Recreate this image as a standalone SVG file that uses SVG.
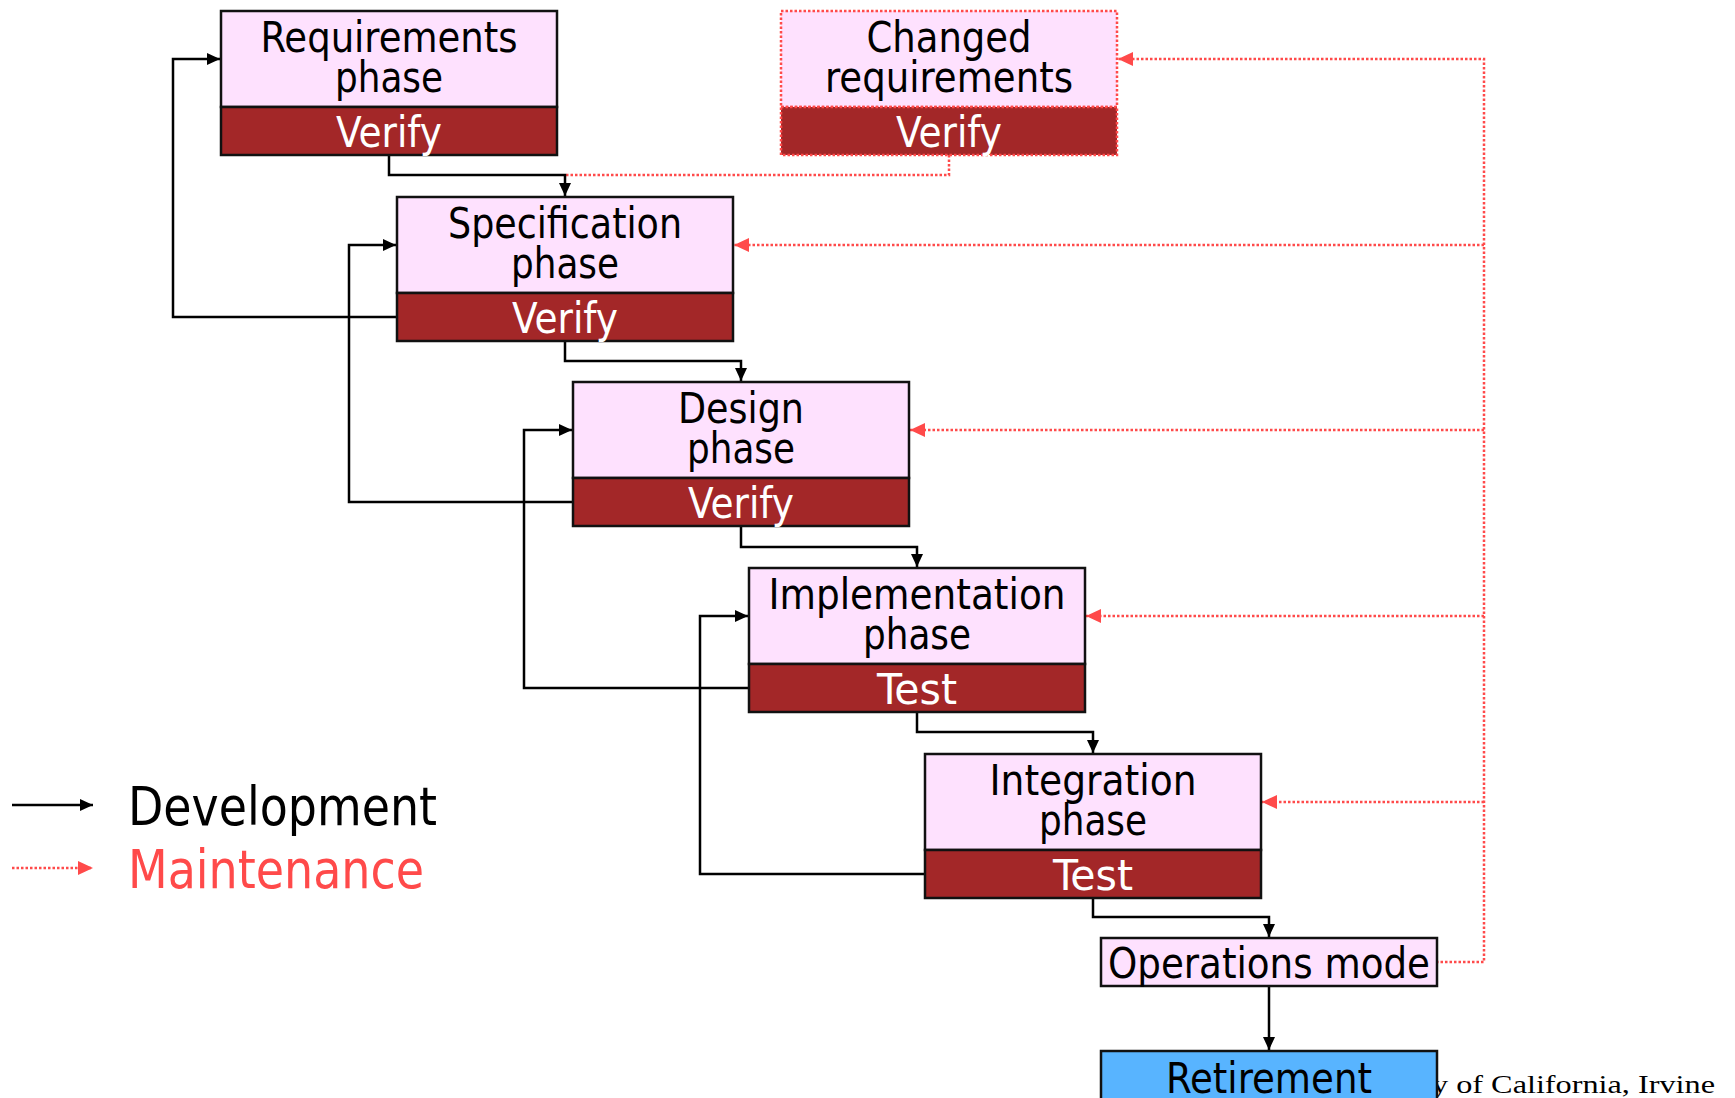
<svg xmlns="http://www.w3.org/2000/svg" width="1735" height="1098" viewBox="0 0 1735 1098">
<style>
.top{fill:#FEE1FE;stroke:#111;stroke-width:2.5}
.bot{fill:#A32728;stroke:#111;stroke-width:2.5}
.ctop{fill:#FEE1FE;stroke:#FF4A4A;stroke-width:2.5;stroke-dasharray:2.5 2}
.cbot{fill:#A32728;stroke:#FF4A4A;stroke-width:2.5;stroke-dasharray:2.5 2}
.ret{fill:#58B4FF;stroke:#111;stroke-width:2.5}
.t{font-family:"DejaVu Sans Condensed","DejaVu Sans",sans-serif;font-size:42px;fill:#000;text-anchor:middle}
.w{font-family:"DejaVu Sans Condensed","DejaVu Sans",sans-serif;font-size:43px;fill:#fff;text-anchor:middle}
.dev{fill:none;stroke:#000;stroke-width:2.5}
.mnt{fill:none;stroke:#FF4A4A;stroke-width:2.5;stroke-dasharray:2.5 2}
.leg{font-family:"DejaVu Sans Condensed","DejaVu Sans",sans-serif;font-size:54px}
</style>
<defs>
<marker id="ab" markerUnits="userSpaceOnUse" markerWidth="14" markerHeight="12" refX="13" refY="6" orient="auto">
<path d="M0,0 L13,6 L0,12 Z" fill="#000"/>
</marker>
<marker id="ar" markerUnits="userSpaceOnUse" markerWidth="16" markerHeight="14" refX="15" refY="7" orient="auto">
<path d="M0,0 L15,7 L0,14 Z" fill="#FF4A4A"/>
</marker>
</defs>

<g id="connectors">
<path class="mnt" d="M1436,962 H1484 V59 H1118" marker-end="url(#ar)"/>
<path class="mnt" d="M1484,245 H734" marker-end="url(#ar)"/>
<path class="mnt" d="M1484,430 H910" marker-end="url(#ar)"/>
<path class="mnt" d="M1484,616 H1086" marker-end="url(#ar)"/>
<path class="mnt" d="M1484,802 H1262" marker-end="url(#ar)"/>
<path class="mnt" d="M949,155 V175 H566"/>
<path class="dev" d="M389,155 V175 H565 V196" marker-end="url(#ab)"/>
<path class="dev" d="M565,341 V361 H741 V381" marker-end="url(#ab)"/>
<path class="dev" d="M741,527 V547 H917 V567" marker-end="url(#ab)"/>
<path class="dev" d="M917,712 V732 H1093 V753" marker-end="url(#ab)"/>
<path class="dev" d="M1093,898 V917 H1269 V937" marker-end="url(#ab)"/>
<path class="dev" d="M1269,986 V1050" marker-end="url(#ab)"/>
<path class="dev" d="M397,317 H173 V59 H220" marker-end="url(#ab)"/>
<path class="dev" d="M573,502 H349 V245 H396" marker-end="url(#ab)"/>
<path class="dev" d="M749,688 H524 V430 H572" marker-end="url(#ab)"/>
<path class="dev" d="M925,874 H700 V616 H748" marker-end="url(#ab)"/>
</g>

<g id="requirements">
<rect class="top" x="221" y="11" width="336" height="96"/>
<rect class="bot" x="221" y="107" width="336" height="48"/>
<text class="t" x="389" y="52" textLength="257" lengthAdjust="spacingAndGlyphs">Requirements</text>
<text class="t" x="389" y="92" textLength="108" lengthAdjust="spacingAndGlyphs">phase</text>
<text class="w" x="389" y="147" textLength="106" lengthAdjust="spacingAndGlyphs">Verify</text>
</g>

<g id="changed-requirements">
<rect class="ctop" x="781" y="11" width="336" height="96"/>
<rect class="cbot" x="781" y="107" width="336" height="48"/>
<text class="t" x="949" y="52" textLength="165" lengthAdjust="spacingAndGlyphs">Changed</text>
<text class="t" x="949" y="92" textLength="248" lengthAdjust="spacingAndGlyphs">requirements</text>
<text class="w" x="949" y="147" textLength="106" lengthAdjust="spacingAndGlyphs">Verify</text>
</g>

<g id="specification">
<rect class="top" x="397" y="197" width="336" height="96"/>
<rect class="bot" x="397" y="293" width="336" height="48"/>
<text class="t" x="565" y="238" textLength="234" lengthAdjust="spacingAndGlyphs">Specification</text>
<text class="t" x="565" y="278" textLength="108" lengthAdjust="spacingAndGlyphs">phase</text>
<text class="w" x="565" y="333" textLength="106" lengthAdjust="spacingAndGlyphs">Verify</text>
</g>

<g id="design">
<rect class="top" x="573" y="382" width="336" height="96"/>
<rect class="bot" x="573" y="478" width="336" height="48"/>
<text class="t" x="741" y="423" textLength="126" lengthAdjust="spacingAndGlyphs">Design</text>
<text class="t" x="741" y="463" textLength="108" lengthAdjust="spacingAndGlyphs">phase</text>
<text class="w" x="741" y="518" textLength="106" lengthAdjust="spacingAndGlyphs">Verify</text>
</g>

<g id="implementation">
<rect class="top" x="749" y="568" width="336" height="96"/>
<rect class="bot" x="749" y="664" width="336" height="48"/>
<text class="t" x="917" y="609" textLength="297" lengthAdjust="spacingAndGlyphs">Implementation</text>
<text class="t" x="917" y="649" textLength="108" lengthAdjust="spacingAndGlyphs">phase</text>
<text class="w" x="917" y="704" textLength="80" lengthAdjust="spacingAndGlyphs">Test</text>
</g>

<g id="integration">
<rect class="top" x="925" y="754" width="336" height="96"/>
<rect class="bot" x="925" y="850" width="336" height="48"/>
<text class="t" x="1093" y="795" textLength="207" lengthAdjust="spacingAndGlyphs">Integration</text>
<text class="t" x="1093" y="835" textLength="108" lengthAdjust="spacingAndGlyphs">phase</text>
<text class="w" x="1093" y="890" textLength="80" lengthAdjust="spacingAndGlyphs">Test</text>
</g>

<g id="operations">
<rect class="top" x="1101" y="938" width="336" height="48"/>
<text class="t" x="1269" y="978" font-size="43" textLength="322" lengthAdjust="spacingAndGlyphs">Operations mode</text>
</g>

<g id="footer">
<text x="1432" y="1093" font-family="'Liberation Serif',serif" font-size="25" fill="#000" textLength="283" lengthAdjust="spacingAndGlyphs">y of California, Irvine</text>
</g>

<g id="retirement">
<rect class="ret" x="1101" y="1051" width="336" height="60"/>
<text class="t" x="1269" y="1093" font-size="43" textLength="206" lengthAdjust="spacingAndGlyphs">Retirement</text>
</g>

<g id="legend">
<path class="dev" d="M12,805 H93" marker-end="url(#ab)"/>
<path class="mnt" d="M12,868 H93" marker-end="url(#ar)"/>
<text class="leg" x="128" y="825" fill="#000" textLength="309" lengthAdjust="spacingAndGlyphs">Development</text>
<text class="leg" x="128" y="888" fill="#FF4A4A" textLength="296" lengthAdjust="spacingAndGlyphs">Maintenance</text>
</g>
</svg>
